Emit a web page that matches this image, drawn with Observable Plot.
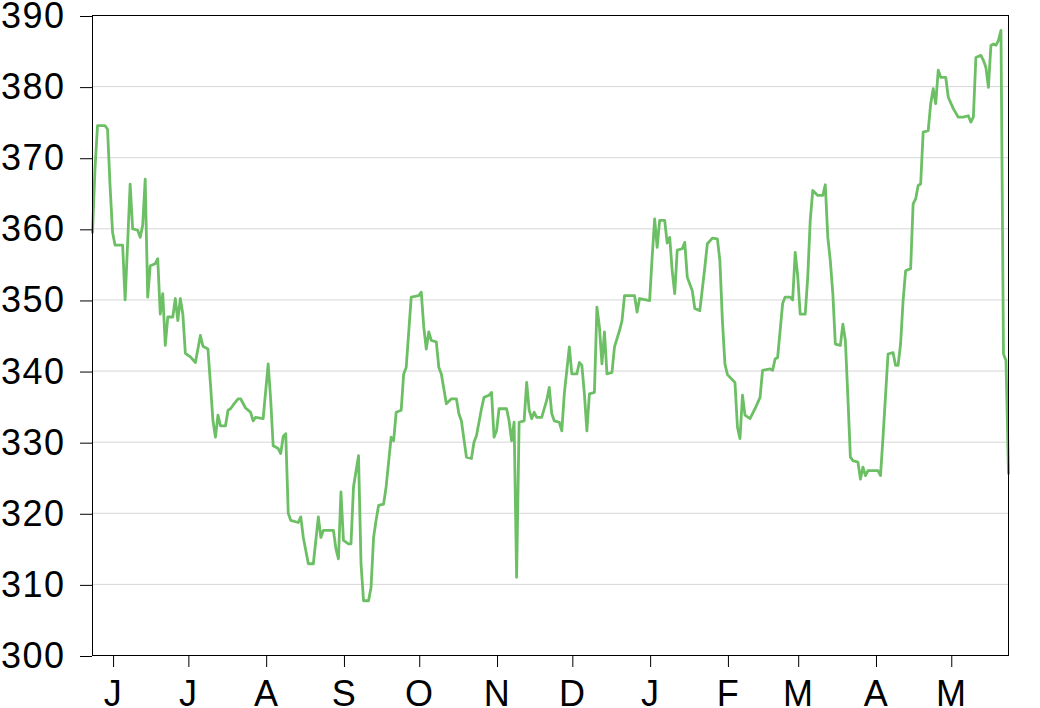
<!DOCTYPE html>
<html>
<head>
<meta charset="utf-8">
<script src="https://cdn.jsdelivr.net/npm/d3@7"></script>
<script src="https://cdn.jsdelivr.net/npm/@observablehq/plot@0.6"></script>
<style>
  html, body { margin: 0; padding: 0; background: white; overflow: hidden; }
  #chart svg { display: block; }
  #chart svg g[aria-label="y-axis tick label"] text,
  #chart svg g[aria-label="x-axis tick label"] text { letter-spacing: 1.5px; }
</style>
</head>
<body>
<div id="chart"></div>
<script>
const dates = [
  "2014-05-24","2014-05-25","2014-05-26","2014-05-29","2014-05-30","2014-05-31",
  "2014-06-01","2014-06-02","2014-06-05","2014-06-06","2014-06-07","2014-06-08","2014-06-09",
  "2014-06-11","2014-06-12","2014-06-13","2014-06-14","2014-06-15","2014-06-16","2014-06-18",
  "2014-06-19","2014-06-20","2014-06-21","2014-06-22","2014-06-23","2014-06-25","2014-06-26",
  "2014-06-27","2014-06-28","2014-06-29","2014-06-30",
  "2014-07-02","2014-07-04","2014-07-06","2014-07-07","2014-07-09","2014-07-10","2014-07-11",
  "2014-07-12","2014-07-13","2014-07-14","2014-07-16","2014-07-17","2014-07-18","2014-07-19",
  "2014-07-21","2014-07-22","2014-07-24","2014-07-25","2014-07-26","2014-07-27","2014-07-28",
  "2014-07-31",
  "2014-08-02","2014-08-03","2014-08-04","2014-08-06","2014-08-07","2014-08-08","2014-08-09",
  "2014-08-10","2014-08-11","2014-08-14","2014-08-15","2014-08-16","2014-08-18","2014-08-20",
  "2014-08-22","2014-08-23","2014-08-24","2014-08-28","2014-08-29","2014-08-30","2014-08-31",
  "2014-09-01","2014-09-03","2014-09-04","2014-09-05","2014-09-07","2014-09-08","2014-09-09",
  "2014-09-11","2014-09-12","2014-09-13","2014-09-14","2014-09-15","2014-09-17","2014-09-18",
  "2014-09-20","2014-09-21","2014-09-22","2014-09-24","2014-09-25","2014-09-26","2014-09-28",
  "2014-10-01","2014-10-02","2014-10-03","2014-10-04","2014-10-05","2014-10-06","2014-10-08",
  "2014-10-09","2014-10-10","2014-10-12","2014-10-14","2014-10-16","2014-10-17","2014-10-18",
  "2014-10-20","2014-10-22","2014-10-23","2014-10-24","2014-10-26","2014-10-27","2014-10-29",
  "2014-10-30","2014-10-31",
  "2014-11-01","2014-11-02","2014-11-05","2014-11-06","2014-11-07","2014-11-08","2014-11-09",
  "2014-11-10","2014-11-12","2014-11-13","2014-11-14","2014-11-15","2014-11-16","2014-11-17",
  "2014-11-19","2014-11-21","2014-11-22","2014-11-23","2014-11-24","2014-11-26","2014-11-27",
  "2014-11-28","2014-11-30",
  "2014-12-01","2014-12-03","2014-12-04","2014-12-05","2014-12-06","2014-12-07","2014-12-08",
  "2014-12-10","2014-12-11","2014-12-12","2014-12-13","2014-12-14","2014-12-15","2014-12-17",
  "2014-12-18","2014-12-20","2014-12-21","2014-12-22","2014-12-26","2014-12-27","2014-12-28",
  "2015-01-01","2015-01-02","2015-01-03","2015-01-04","2015-01-05","2015-01-07","2015-01-08",
  "2015-01-09","2015-01-10","2015-01-11","2015-01-12","2015-01-14","2015-01-15","2015-01-16",
  "2015-01-18","2015-01-19","2015-01-21","2015-01-23","2015-01-24","2015-01-26","2015-01-28",
  "2015-01-29","2015-01-30","2015-01-31",
  "2015-02-01","2015-02-04","2015-02-05","2015-02-06","2015-02-07","2015-02-08","2015-02-10",
  "2015-02-12","2015-02-14","2015-02-15","2015-02-18","2015-02-19","2015-02-20","2015-02-21",
  "2015-02-23","2015-02-24","2015-02-26","2015-02-27","2015-02-28",
  "2015-03-01","2015-03-02","2015-03-04","2015-03-05","2015-03-06","2015-03-07","2015-03-09",
  "2015-03-11","2015-03-12","2015-03-13","2015-03-14","2015-03-15","2015-03-16","2015-03-18",
  "2015-03-19","2015-03-20","2015-03-21","2015-03-22","2015-03-23","2015-03-25","2015-03-26",
  "2015-03-27","2015-03-28","2015-03-29",
  "2015-04-02","2015-04-03","2015-04-04","2015-04-06","2015-04-08","2015-04-09","2015-04-10",
  "2015-04-11","2015-04-12","2015-04-13","2015-04-15","2015-04-16","2015-04-17","2015-04-18",
  "2015-04-19","2015-04-20","2015-04-22","2015-04-23","2015-04-24","2015-04-25","2015-04-26",
  "2015-04-27","2015-04-29","2015-04-30",
  "2015-05-02","2015-05-04","2015-05-06","2015-05-08","2015-05-09","2015-05-10","2015-05-11",
  "2015-05-13","2015-05-14","2015-05-15","2015-05-16","2015-05-17","2015-05-18","2015-05-19",
  "2015-05-20","2015-05-21","2015-05-22","2015-05-23","2015-05-24"
];

const values = [
  359.5,368.5,374.5,374.5,374.0,366,
  359.5,357.7,357.7,350,358,366.3,360,
  359.8,358.8,360.5,367,350.4,354.8,355.1,
  355.8,348,350.9,343.6,347.6,347.6,350.2,
  347.1,350.2,348,342.5,
  342,341.2,345,343.5,343.1,338.2,333,
  330.7,333.8,332.3,332.3,334.5,334.7,335.2,
  336.1,336.1,334.8,334.5,334.2,333,333.5,
  333.3,
  341,336,329.5,329.1,328.4,330.8,331.2,
  320,319,318.7,319.5,316.6,312.9,312.9,
  319.5,316.6,317.6,317.6,315,313.6,323,
  316.2,315.7,315.7,323.7,328.1,312.9,307.7,
  307.7,309.6,316.6,319,321.1,321.3,323.7,
  330.7,330.2,334.2,334.5,339.6,340.5,350.4,
  350.6,351.1,346.2,343.1,345.5,344.3,344.1,
  340.5,339.6,335.4,336.1,336.1,334,333,
  327.9,327.7,330,330.9,334.7,336.3,336.6,
  337,330.7,
  331.6,334.7,334.7,333,330.2,332.8,311,
  332.8,333,338.4,334.5,333.3,334.2,333.5,
  333.5,335.9,337.7,334,333,332.8,331.6,
  336.8,343.4,
  339.6,339.6,341.2,340.8,336.8,331.6,336.8,
  337,349,346.2,341,345.5,339.6,339.8,
  343.4,345.7,347.1,350.6,350.6,348.3,350.2,
  349.9,356,361.4,357.4,361.2,361.2,358,
  358.8,354.1,350.9,357,357.2,358.1,353.2,
  351.3,348.8,348.5,354.6,357.9,358.7,358.6,
  355.5,347.1,341,
  339.5,338.4,332.1,330.5,336.6,333.8,333.3,
  334.7,336.3,340.1,340.3,340.1,341.7,341.9,
  349.5,350.4,350.4,350,356.7,
  353.4,348,348,353.2,361.2,365.4,364.7,
  364.7,366.2,358.8,355.5,350.9,343.8,343.6,
  346.6,344.3,336.3,327.9,327.4,327.2,324.8,
  326.5,325.3,326,
  326,325.3,330.7,342.4,342.6,340.8,340.8,
  343.8,349.9,354.1,354.4,363.5,364.2,366.1,
  366.3,373.6,373.8,377.6,379.7,377.6,382.3,
  381.3,381.3,378.5,
  376.9,375.7,375.7,375.9,375,375.7,384.1,
  384.4,383.7,382.7,379.9,385.8,386,385.8,
  386.5,387.9,342.4,341.5,325.6
];

const yTicks = [300, 310, 320, 330, 340, 350, 360, 370, 380, 390];
const monthLetters = ["J","F","M","A","M","J","J","A","S","O","N","D"];

const data = dates.map((d, i) => ({date: new Date(d + "T00:00:00Z"), value: values[i]}));
const [d0, d1] = d3.extent(data, d => d.date);
const monthTicks = d3.utcMonths(d0, d1);

const chart = Plot.plot({
  width: 1040,
  height: 708,
  marginLeft: 92,
  marginRight: 32,
  marginTop: 15,
  marginBottom: 53,
  style: {fontFamily: "'Liberation Sans', Arial, sans-serif", fontSize: "36px", background: "white", color: "black", overflow: "visible"},
  x: {type: "utc"},
  y: {domain: [300, 390]},
  marks: [
    Plot.gridY(yTicks, {stroke: "#d6d6d6", strokeOpacity: 1, strokeWidth: 1}),
    Plot.line(data, {x: "date", y: "value", stroke: "#6cbf64", strokeWidth: 2.8, strokeLinejoin: "round"}),
    Plot.frame({stroke: "black", strokeWidth: 1}),
    Plot.axisY(yTicks, {tickSize: 12, tickPadding: 15, fontSize: 36, dy: 1, stroke: "black", fill: "black", label: null}),
    Plot.axisX(monthTicks, {tickSize: 12, tickPadding: 13, fontSize: 36, dx: 1, stroke: "black", fill: "black", label: null,
      tickFormat: d => monthLetters[d.getUTCMonth()]})
  ]
});
document.getElementById("chart").appendChild(chart);
</script>
</body>
</html>
